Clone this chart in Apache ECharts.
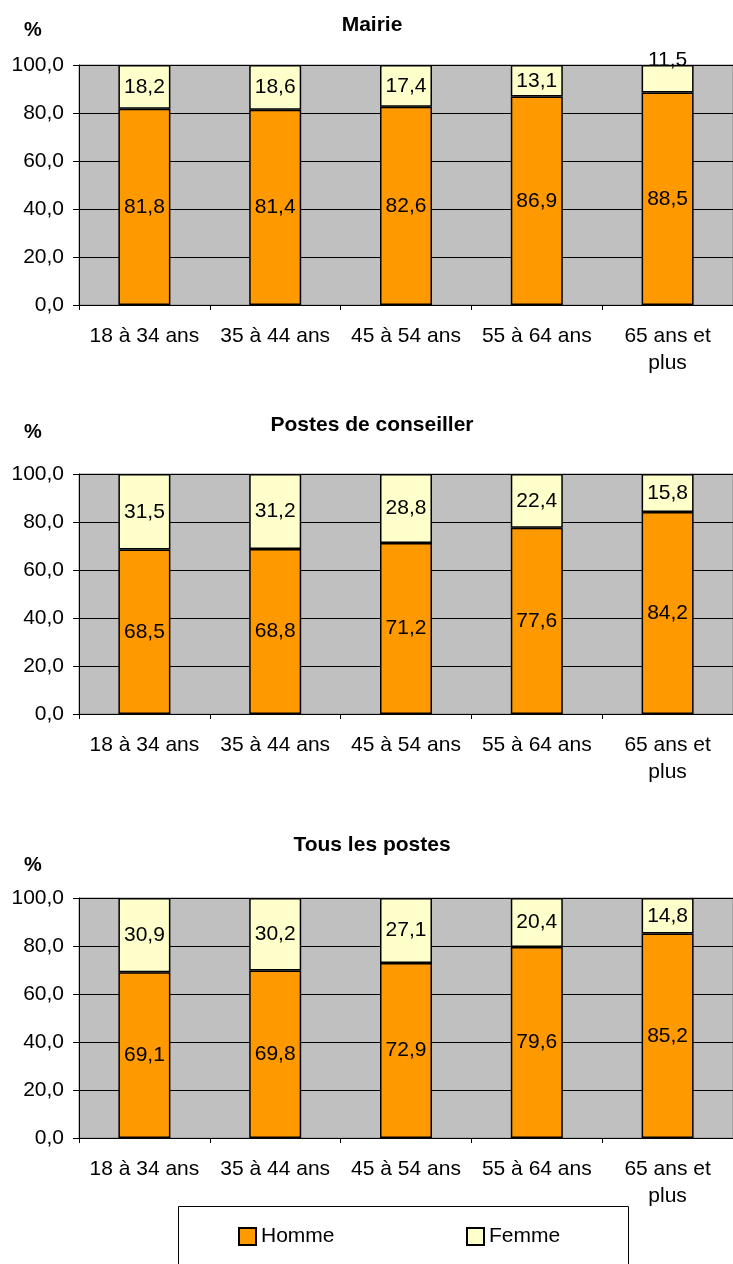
<!DOCTYPE html>
<html><head><meta charset="utf-8">
<script src="https://cdn.jsdelivr.net/npm/echarts@6/dist/echarts.min.js"></script>
<style>html,body{margin:0;padding:0;background:#fff}#c{width:733px;height:1264px}</style>
</head><body><div id="c"></div>
<script>
const categories = ['18 à 34 ans', '35 à 44 ans', '45 à 54 ans', '55 à 64 ans', '65 ans et\nplus'];
const titles = ['Mairie', 'Postes de conseiller', 'Tous les postes'];
const seriesNames = ['Homme', 'Femme'];
const mairieHomme = [81.8, 81.4, 82.6, 86.9, 88.5];
const mairieFemme = [18.2, 18.6, 17.4, 13.1, 11.5];
const conseillerHomme = [68.5, 68.8, 71.2, 77.6, 84.2];
const conseillerFemme = [31.5, 31.2, 28.8, 22.4, 15.8];
const tousHomme = [69.1, 69.8, 72.9, 79.6, 85.2];
const tousFemme = [30.9, 30.2, 27.1, 20.4, 14.8];
const yTicks = [0, 20, 40, 60, 80, 100];

const FONT = "'Liberation Sans', Arial, sans-serif";
const fmt = v => v.toFixed(1).replace('.', ',');
const panels = [[mairieHomme, mairieFemme], [conseillerHomme, conseillerFemme], [tousHomme, tousFemme]];
const gridTops = [65, 474, 898];
const titleY = [25, 425, 845];
const pctY = [30, 432, 865];
const colors = ['#FF9900', '#FFFFCC'];

const grids = [], xAxes = [], yAxes = [], series = [], graphics = [];
panels.forEach((p, i) => {
  grids.push({left: 79, top: gridTops[i], width: 660, height: 240, show: true,
    backgroundColor: '#C0C0C0', borderColor: '#8c8c8c', borderWidth: 1});
  xAxes.push({type: 'category', gridIndex: i, data: categories,
    axisLine: {lineStyle: {color: '#000', width: 1}},
    axisTick: {show: true, length: 5, lineStyle: {color: '#000'}},
    axisLabel: {color: '#000', fontFamily: FONT, fontSize: 21, lineHeight: 27, margin: 18, interval: 0}});
  yAxes.push({type: 'value', gridIndex: i, min: yTicks[0], max: yTicks[yTicks.length - 1], interval: yTicks[1] - yTicks[0],
    axisLine: {show: true, lineStyle: {color: '#000', width: 1}},
    axisTick: {show: true, length: 6, lineStyle: {color: '#000'}},
    splitLine: {show: true, lineStyle: {color: '#000', width: 1}},
    axisLabel: {color: '#000', fontFamily: FONT, fontSize: 21, margin: 15, formatter: fmt}});
  p.forEach((vals, k) => {
    series.push({type: 'bar', name: seriesNames[k], xAxisIndex: i, yAxisIndex: i, stack: 's' + i,
      barWidth: 52,
      data: vals.map((v, j) => {
        const d = {value: v};
        if (i === 0 && k === 1 && j === 4) d.label = {offset: [0, -19]};
        return d;
      }),
      itemStyle: {color: colors[k], borderColor: '#000', borderWidth: 1.5},
      label: {show: true, position: 'inside', color: '#000', fontFamily: FONT, fontSize: 21,
        formatter: o => fmt(o.value)},
      emphasis: {disabled: true}, animation: false});
  });
  graphics.push({type: 'text', x: 372, y: titleY[i], style: {text: titles[i], font: 'bold 21px ' + FONT,
    fill: '#000', align: 'center', verticalAlign: 'middle'}});
  graphics.push({type: 'text', x: 33, y: pctY[i], style: {text: '%', font: 'bold 20px ' + FONT,
    fill: '#000', align: 'center', verticalAlign: 'middle'}});
});
graphics.push({type: 'rect', shape: {x: 178.5, y: 1206.5, width: 450, height: 80},
  style: {fill: '#fff', stroke: '#000', lineWidth: 1}, z: -1});

const chart = echarts.init(document.getElementById('c'), null, {renderer: 'canvas'});
chart.setOption({
  animation: false,
  grid: grids, xAxis: xAxes, yAxis: yAxes, series: series, graphic: graphics,
  legend: [
    {data: ['Homme'], left: 238, top: 1226, padding: 0, icon: 'rect', itemWidth: 17, itemHeight: 17, itemGap: 7,
      textStyle: {color: '#000', fontFamily: FONT, fontSize: 21}, selectedMode: false},
    {data: ['Femme'], left: 466, top: 1226, padding: 0, icon: 'rect', itemWidth: 17, itemHeight: 17, itemGap: 7,
      textStyle: {color: '#000', fontFamily: FONT, fontSize: 21}, selectedMode: false}
  ]
});
</script></body></html>
